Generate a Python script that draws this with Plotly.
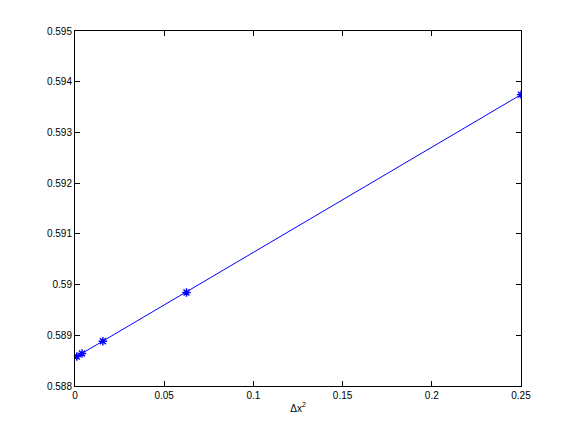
import plotly.graph_objects as go

dx2 = [0.25, 0.0625, 0.015625, 0.00390625, 0.0009765625]
vals = [0.593745, 0.589845, 0.588883, 0.588642, 0.588582]
xticks = [0, 0.05, 0.1, 0.15, 0.2, 0.25]
xticklabels = ["0", "0.05", "0.1", "0.15", "0.2", "0.25"]
yticks = [0.588, 0.589, 0.590, 0.591, 0.592, 0.593, 0.594, 0.595]
yticklabels = ["0.588", "0.589", "0.59", "0.591", "0.592", "0.593", "0.594", "0.595"]

fig = go.Figure()
fig.add_trace(go.Scatter(
    x=dx2, y=vals, mode="lines+markers",
    line=dict(color="#0000ff", width=1),
    marker=dict(symbol="asterisk-open", size=7, color="#0000ff",
                line=dict(color="#0000ff", width=1.4)),
    showlegend=False,
))

axis_common = dict(
    showgrid=False, zeroline=False, showline=True, linecolor="black",
    linewidth=1, mirror="ticks", ticks="inside", ticklen=5,
    tickcolor="black", tickfont=dict(family="Liberation Sans, Arial", size=10, color="black"),
)
fig.update_xaxes(range=[0, 0.25], tickvals=xticks, ticktext=xticklabels,
                 title=dict(text="Δx<sup>2</sup>", font=dict(family="Liberation Sans, Arial", size=10, color="black"), standoff=4),
                 **axis_common)
fig.update_yaxes(range=[0.588, 0.595], tickvals=yticks, ticktext=yticklabels, **axis_common)

fig.update_layout(
    width=576, height=432,
    margin=dict(l=67, r=63, t=23, b=54),
    paper_bgcolor="white", plot_bgcolor="white",
)
fig.write_html("out.html")
